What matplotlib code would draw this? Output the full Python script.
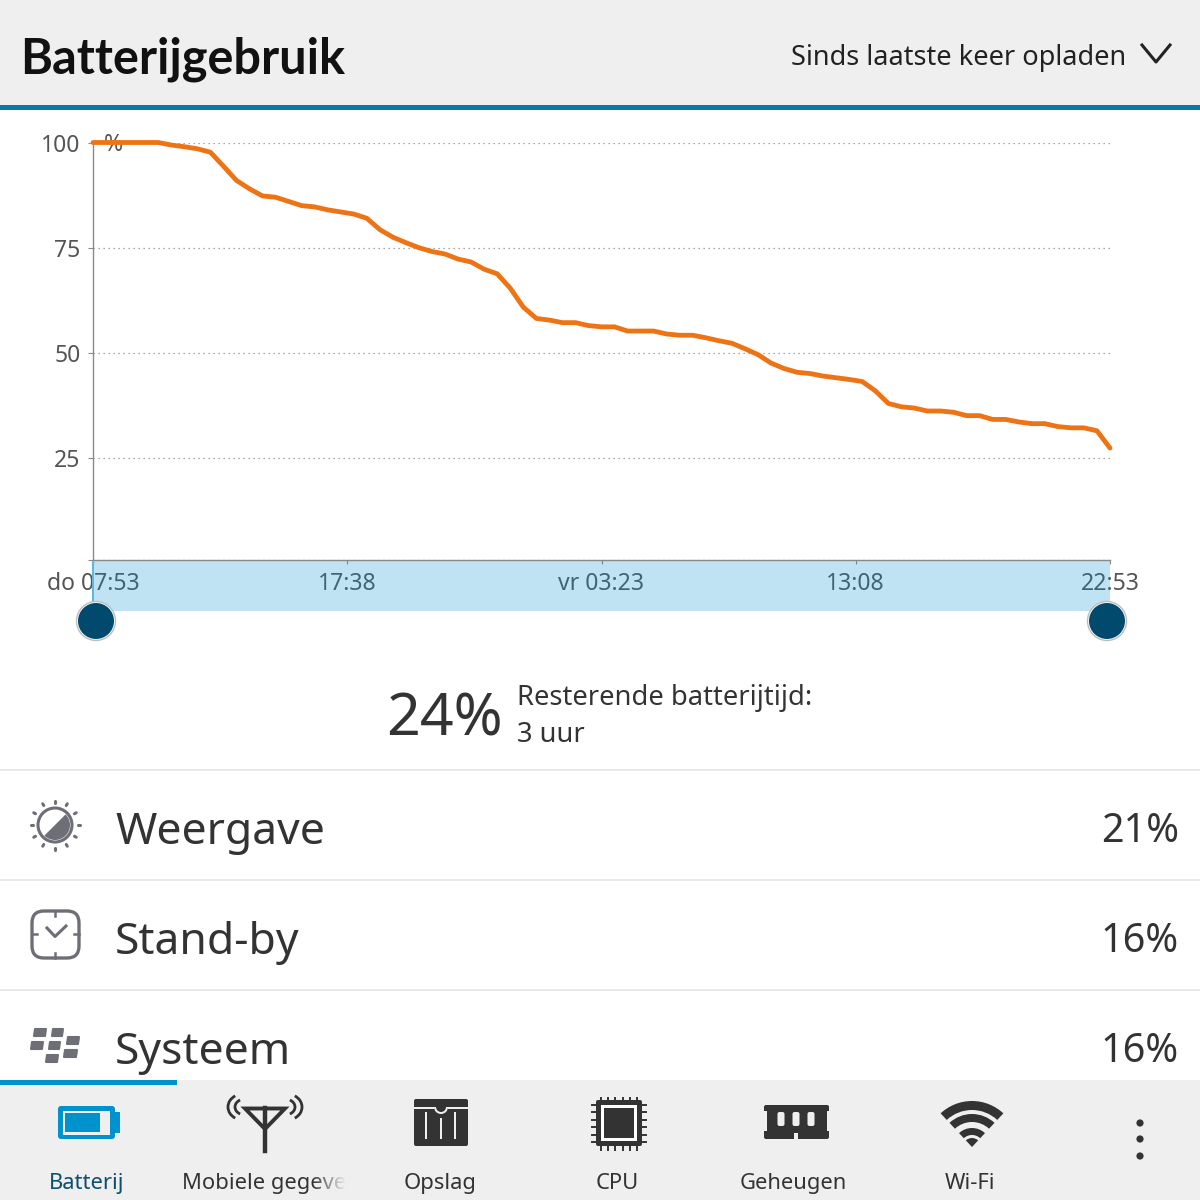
import numpy as np
import matplotlib
matplotlib.use("Agg")
import matplotlib.pyplot as plt
from matplotlib.patches import Rectangle, Circle, Wedge, Polygon, FancyBboxPatch, Arc
from matplotlib.colors import to_rgb

plt.rcParams['font.family'] = ['Noto Sans', 'DejaVu Sans']

# --- Data ---
# battery level, one reading every half hour
battery = [100, 100, 100, 100, 100, 100, 99.4, 99, 98.5, 97.7,
           94.4, 91, 89, 87.3, 87, 86, 85, 84.7, 84, 83.5,
           83, 82, 79.3, 77.5, 76.2, 75, 74.1, 73.5, 72.3, 71.6,
           69.9, 68.8, 65.4, 60.9, 58.2, 57.8, 57.2, 57.2, 56.5, 56.2,
           56.2, 55.2, 55.2, 55.2, 54.5, 54.2, 54.2, 53.6, 52.9, 52.3,
           51, 49.6, 47.6, 46.3, 45.4, 45.1, 44.5, 44.1, 43.7, 43.2,
           41, 38, 37.2, 36.9, 36.2, 36.2, 35.9, 35.1, 35.1, 34.2,
           34.2, 33.6, 33.2, 33.2, 32.5, 32.2, 32.2, 31.5, 27.4]
hours = np.arange(len(battery)) * 0.5

y_ticks = [25, 50, 75, 100]
x_ticks = [0, 9.75, 19.5, 29.25, 39]
x_labels = ['do 07:53', '17:38', 'vr 03:23', '13:08', '22:53']

usage_names = ['Weergave', 'Stand-by', 'Systeem']
usage_values = ['21%', '16%', '16%']
tab_names = ['Batterij', 'Mobiele gegeve', 'Opslag', 'CPU', 'Geheugen', 'Wi-Fi']

# --- Colours ---
BAR = '#efefef'
DARK = '#333333'
GREY = '#6e6f76'
TEXT = '#555555'
BLUE = '#0092cc'
ORANGE = '#ee7314'

fig = plt.figure(figsize=(12, 12), dpi=100, facecolor='white')


def pixel_axes(z):
    a = fig.add_axes([0, 0, 1, 1], zorder=z)
    a.set_xlim(0, 1200)
    a.set_ylim(1200, 0)
    a.axis('off')
    return a


def px(size):
    return size * 0.72


def rect(a, x0, y0, x1, y1, color, **kw):
    a.add_patch(Rectangle((x0, y0), x1 - x0, y1 - y0, fc=color, ec='none', **kw))


def rrect(a, x0, y0, x1, y1, r, fc, ec='none', lw=0):
    a.add_patch(FancyBboxPatch((x0 + r, y0 + r), x1 - x0 - 2 * r, y1 - y0 - 2 * r,
                               boxstyle=f'round,pad={r},rounding_size={r}',
                               fc=fc, ec=ec, lw=lw))


bg = pixel_axes(0)

# --- Header ---
rect(bg, 0, 0, 1200, 105, BAR)
rect(bg, 0, 105, 1200, 110, '#0a78a8')
bg.text(20, 73, 'Batterijgebruik', fontsize=px(48.6), fontweight='bold',
        family=['Lato', 'DejaVu Sans'], color='#111111')
bg.text(791, 64.5, 'Sinds laatste keer opladen', ha='left', fontsize=px(27.2), color='#222222')
bg.plot([1142, 1156, 1170], [45, 62, 45], color='#222222', lw=2.2)

# --- Summary ---
bg.text(386, 736, '24%', fontsize=px(59), color=DARK)
bg.text(517, 705, 'Resterende batterijtijd:', fontsize=px(27.4), color=DARK)
bg.text(517, 742, '3 uur', fontsize=px(27.4), color=DARK)

# --- Usage rows ---
for y in [770, 880, 990]:
    rect(bg, 0, y - 1, 1200, y + 1, '#e8e8e8')
for i, (name, value) in enumerate(zip(usage_names, usage_values)):
    base = 844 + 110 * i
    bg.text(115, base, name, fontsize=px(44.5), color=DARK)
    bg.text(1179, base - 2, value, ha='right', fontsize=px(39.5), color=DARK)

# sun icon
bg.add_patch(Circle((55, 825), 17, fc='none', ec=GREY, lw=2.2))
bg.add_patch(Wedge((55, 825), 15, -45, 135, fc=GREY, ec='none'))
for ang in np.deg2rad(np.arange(0, 360, 30)):
    bg.plot([55 + 22.5 * np.cos(ang), 55 + 24.5 * np.cos(ang)],
            [825 + 22.5 * np.sin(ang), 825 + 24.5 * np.sin(ang)],
            color=GREY, lw=2.2, solid_capstyle='round')

# clock icon
rrect(bg, 32, 911, 79, 958, 12, 'none', GREY, 2.4)
for p, q in [((55, 911), (55, 916)), ((55, 953), (55, 958)),
             ((32, 934), (37, 934)), ((74, 934), (79, 934))]:
    bg.plot([p[0], q[0]], [p[1], q[1]], color=GREY, lw=1.8)
bg.plot([47, 55, 66], [928, 936.5, 926], color=GREY, lw=2.2)

# blackberry icon
for x0, x1, y0, y1 in [(34, 46, 1029, 1036), (52, 63, 1029, 1036),
                       (31, 43, 1042, 1049), (49, 60, 1042, 1049),
                       (67, 79, 1037, 1044), (64, 77, 1050, 1057),
                       (46, 58, 1055, 1062)]:
    bg.add_patch(Polygon([(x0 + 1, y0), (x1, y0), (x1 - 1, y1), (x0, y1)],
                         fc=GREY, ec=GREY, lw=1.5, joinstyle='round'))

# --- Chart ---
left, right, top, bottom = 93, 1110, 142.5, 560
ax = fig.add_axes([left / 1200, 1 - bottom / 1200, (right - left) / 1200, (bottom - top) / 1200],
                  zorder=1)
ax.patch.set_alpha(0)
ax.set_xlim(0, 39)
ax.set_ylim(0.8, 100)
ax.plot(hours, battery, color=ORANGE, lw=px(4.8), clip_on=False, zorder=5,
        solid_joinstyle='round', solid_capstyle='round')
ax.set_yticks([0.8] + y_ticks)
ax.set_yticklabels([''] + [str(v) for v in y_ticks], fontsize=px(23), color=TEXT)
ax.set_xticks(x_ticks)
ax.set_xticklabels(x_labels, fontsize=px(23), color=TEXT)
ax.tick_params(axis='y', length=3.5, width=0.8, color='#8a8a8a', pad=5.5)
ax.tick_params(axis='x', length=3, width=0.8, color='#8a8a8a', pad=6)
ax.grid(axis='y', linestyle=(0, (1, 3)), color='#8f8f8f', lw=0.9)
ax.set_axisbelow(True)
for side in ['top', 'right']:
    ax.spines[side].set_visible(False)
for side in ['left', 'bottom']:
    ax.spines[side].set_color('#8a8a8a')
    ax.spines[side].set_linewidth(1)
ax.text(0.42, 99.4, '%', fontsize=px(23), color=TEXT, va='center', ha='left', clip_on=False)

over = pixel_axes(2)

# range selector sits over the tick labels
rect(over, 93, 561, 1110, 611, BLUE, alpha=0.25)
rect(over, 92, 561, 94, 611, '#5db8e0')
for cx in [96, 1107]:
    over.add_patch(Circle((cx, 621), 19.5, fc='white', ec='#bdbdbd', lw=1))
    over.add_patch(Circle((cx, 621), 18, fc='#014a6e', ec='none'))

# --- Bottom tab bar ---
rect(over, 0, 1080, 1200, 1200, BAR)
rect(over, 0, 1080, 177, 1085, BLUE)
tab_x = [87, 182, 440, 617, 793, 970]
for i, (name, x) in enumerate(zip(tab_names, tab_x)):
    over.text(x, 1189, name, fontsize=px(22), ha='left' if i == 1 else 'center',
              color='#0f4f6e' if i == 0 else DARK)

# fade the cut off tab label
fade = np.zeros((1, 60, 4))
fade[..., :3] = to_rgb(BAR)
fade[..., 3] = np.linspace(0, 1, 60)
over.imshow(fade, extent=(312, 346, 1200, 1165), aspect='auto', zorder=6)
over.set_xlim(0, 1200)
over.set_ylim(1200, 0)

# battery icon
rrect(over, 58, 1106, 115, 1139, 3, BLUE)
rect(over, 114, 1112, 119.5, 1133, BLUE)
rect(over, 62.5, 1110.5, 110, 1134.5, BAR)
rect(over, 65, 1113, 100, 1132, BLUE)

# antenna icon
over.add_patch(Polygon([(245, 1108.5), (285, 1108.5), (265, 1129)], fc='none', ec=DARK, lw=2.8))
over.plot([265, 265], [1108, 1151], color=DARK, lw=3.2)
for cx, w, h in [(243, 30, 26), (245, 20, 16)]:
    over.add_patch(Arc((cx, 1107), w, h, theta1=125, theta2=235, color=DARK, lw=2))
for cx, w, h in [(287, 30, 26), (285, 20, 16)]:
    over.add_patch(Arc((cx, 1107), w, h, theta1=-55, theta2=55, color=DARK, lw=2))

# storage icon
rrect(over, 414, 1099, 468, 1146, 2, DARK)
rect(over, 414, 1107, 434, 1109, BAR)
rect(over, 448, 1107, 468, 1109, BAR)
over.add_patch(Wedge((441, 1107), 7, 0, 180, width=2, fc=BAR, ec='none'))
for x in [426, 441, 455]:
    rect(over, x - 1, 1118 if x == 441 else 1112, x + 1, 1139, BAR)

# cpu icon
for t in np.linspace(601, 637, 6):
    over.plot([t, t], [1098, 1102], color=DARK, lw=1.4)
    over.plot([t, t], [1146, 1150], color=DARK, lw=1.4)
for t in np.linspace(1105, 1142, 6):
    over.plot([592, 596], [t, t], color=DARK, lw=1.4)
    over.plot([642, 646], [t, t], color=DARK, lw=1.4)
rrect(over, 596, 1100, 642, 1146, 2, DARK)
rect(over, 601, 1105, 637, 1141, 'white')
rect(over, 604, 1108, 634, 1138, DARK)

# memory icon
rrect(over, 764, 1105, 829, 1139, 2, DARK)
rect(over, 764, 1111, 766.5, 1131, BAR)
rect(over, 826.5, 1111, 829, 1131, BAR)
for x in [781, 796, 811]:
    rrect(over, x - 3.5, 1112, x + 3.5, 1126, 2, BAR)
rect(over, 794, 1133, 798, 1139, BAR)

# wifi icon
for r, w in [(46, 9), (33, 8), (19, 7), (9, 9)]:
    over.add_patch(Wedge((972, 1147), r, 227, 313, width=w, fc=DARK, ec='none'))

# overflow dots
for y in [1123, 1139, 1156]:
    over.add_patch(Circle((1140, y), 3.6, fc=DARK, ec='none'))

fig.savefig('out.png', dpi=100)
